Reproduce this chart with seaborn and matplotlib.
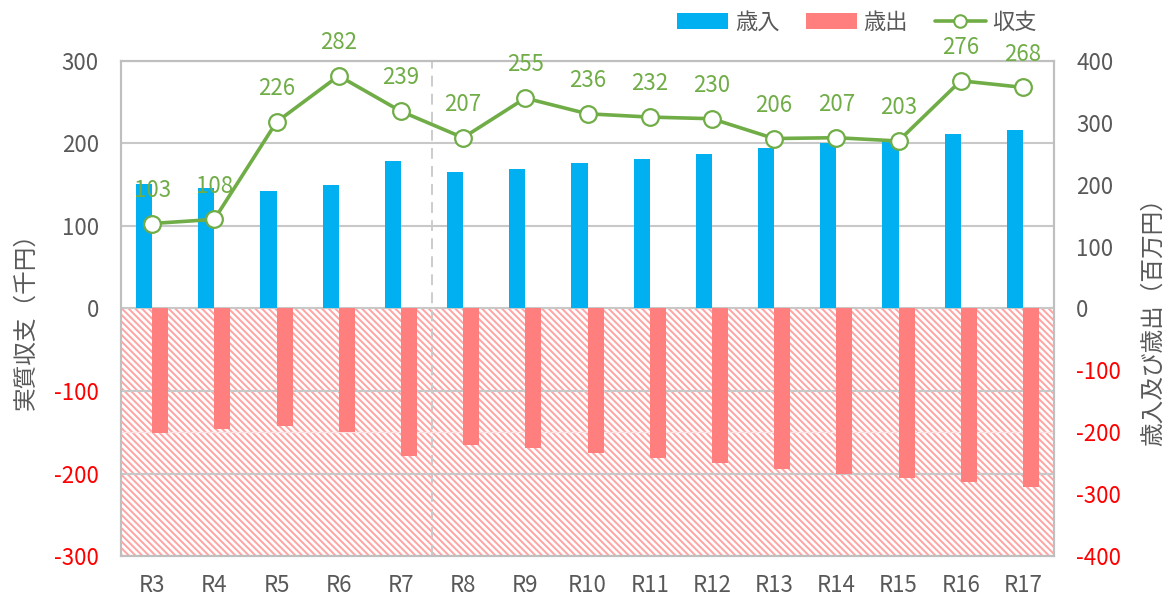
import numpy as np
import pandas as pd
import matplotlib
matplotlib.use('Agg')
import matplotlib.pyplot as plt
import seaborn as sns
from matplotlib.patches import Patch
from matplotlib.lines import Line2D

# data
years = ['R3', 'R4', 'R5', 'R6', 'R7', 'R8', 'R9', 'R10', 'R11', 'R12', 'R13', 'R14', 'R15', 'R16', 'R17']
revenue = [201, 195, 190, 200, 239, 220, 226, 235, 242, 250, 259, 267, 274, 282, 288]      # 百万円
expenditure = [201, 195, 190, 200, 239, 220, 226, 234, 242, 250, 259, 267, 274, 281, 288]  # 百万円
balance = [103, 108, 226, 282, 239, 207, 255, 236, 232, 230, 206, 207, 203, 276, 268]      # 千円

left_ticks = [-300, -200, -100, 0, 100, 200, 300]
right_ticks = [-400, -300, -200, -100, 0, 100, 200, 300, 400]

blue = '#00B0F0'
red = '#FF7F7F'
green = '#70AD47'
grey = '#595959'
grid = '#C8C8C8'

sns.set_style('white')
plt.rcParams['font.family'] = ['Noto Sans CJK JP', 'DejaVu Sans']
plt.rcParams['hatch.linewidth'] = 1.4

df = pd.DataFrame({
    'year': years * 2,
    'value': revenue + [-v for v in expenditure],
    'kind': ['歳入'] * len(years) + ['歳出'] * len(years),
})

fig = plt.figure(figsize=(11.68, 5.96), dpi=100)
ax = fig.add_axes([0.1036, 0.0671, 0.7988, 0.8306])
ax2 = ax.twinx()

# hatched negative zone + gridlines (left scale converted to right scale)
ax.axhspan(-400, 0, facecolor='white', edgecolor='#FFA3A3', hatch='\\\\\\\\\\', linewidth=0, zorder=0)
scale = right_ticks[-1] / left_ticks[-1]
for v in left_ticks:
    ax.axhline(v * scale, color=grid, lw=1.5, zorder=1)
ax.axhline(-200, color='#FBE3E3', lw=1, zorder=1)
ax.axvline(years.index('R8') - 0.5, color='#C8C8C8', lw=1.3, ls=(0, (6, 4)), zorder=1)

sns.barplot(data=df, x='year', y='value', hue='kind', hue_order=['歳入', '歳出'],
            palette=[blue, red], width=0.52, dodge=True, saturation=1,
            linewidth=0, legend=False, ax=ax, zorder=3)

xs = np.arange(len(years))
sns.lineplot(x=xs, y=balance, ax=ax2, color=green, linewidth=2.6, marker='o',
             markersize=12, markerfacecolor='white', markeredgecolor=green,
             markeredgewidth=1.6, zorder=4)
for i, v in enumerate(balance):
    ax2.annotate(str(v), (i, v), xytext=(0, 24), textcoords='offset points',
                 ha='center', va='center', color=green, fontsize=16)

ax.set_xlim(-0.5, len(years) - 0.5)
ax.set_ylim(-400, 400)
ax2.set_ylim(-300, 300)

# swap sides: bars (right scale) behind, line (left scale) on top
ax.yaxis.tick_right()
ax.yaxis.set_label_position('right')
ax2.yaxis.tick_left()
ax2.yaxis.set_label_position('left')

ax2.set_yticks(left_ticks)
ax2.set_yticklabels([str(t) for t in left_ticks])
for t, lab in zip(left_ticks, ax2.get_yticklabels()):
    lab.set_color('#FF0000' if t < 0 else grey)
ax.set_yticks(right_ticks)
ax.set_yticklabels([str(t) for t in right_ticks])
for t, lab in zip(right_ticks, ax.get_yticklabels()):
    lab.set_color('#FF0000' if t < 0 else grey)

ax.set_xticks(xs)
ax.set_xticklabels(years)
ax.tick_params(axis='x', length=0, pad=13, labelsize=16, labelcolor=grey)
ax.tick_params(axis='y', length=0, pad=16, labelsize=16)
ax2.tick_params(axis='y', length=0, pad=16, labelsize=16)
ax2.tick_params(axis='x', length=0)

ax.set_xlabel('')
ax2.set_xlabel('')
ax2.set_ylabel('実質収支（千円）', fontsize=17, color=grey)
ax.set_ylabel('歳入及び歳出（百万円）', fontsize=17, color=grey)
ax2.yaxis.set_label_coords(-0.09, 0.485)
ax.yaxis.set_label_coords(1.094, 0.485)

for a in (ax, ax2):
    for s in a.spines.values():
        s.set_color('#BFBFBF')
        s.set_linewidth(1.5)

handles = [
    Patch(facecolor=blue, edgecolor='none'),
    Patch(facecolor=red, edgecolor='none'),
    Line2D([], [], color=green, lw=2.6, marker='o', markersize=9,
           markerfacecolor='white', markeredgecolor=green, markeredgewidth=1.5),
]
fig.legend(handles, ['歳入', '歳出', '収支'], ncol=3, loc='center right',
           bbox_to_anchor=(0.888, 0.963), frameon=False, fontsize=16,
           labelcolor=grey, handlelength=2.3, handleheight=0.7,
           columnspacing=1.2, handletextpad=0.3, borderaxespad=0, borderpad=0)

fig.savefig('out.png', dpi=100)
